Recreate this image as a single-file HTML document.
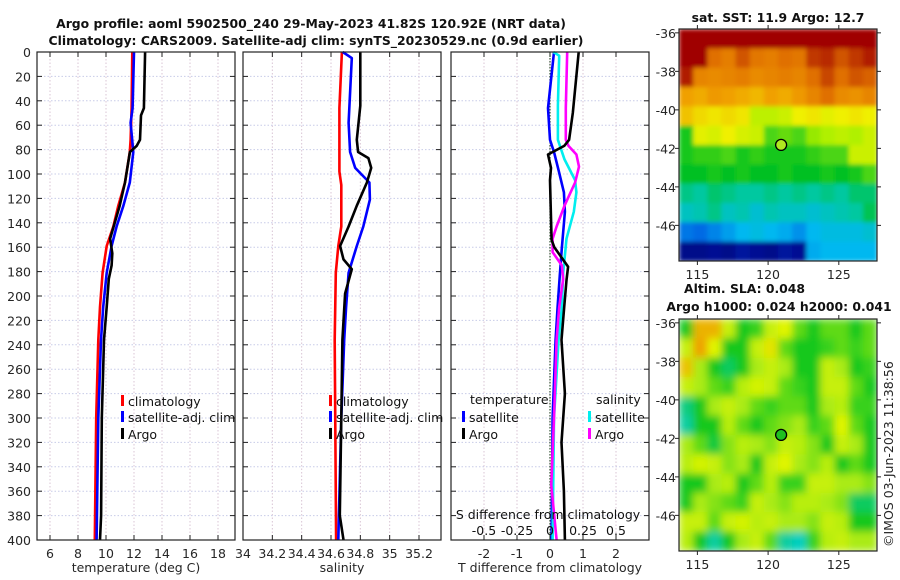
<!DOCTYPE html>
<html><head><meta charset="utf-8"><style>
body{margin:0;background:#fff;}
svg{display:block;font-family:"DejaVu Sans","Liberation Sans",sans-serif;}
.tk{font-size:12.5px;fill:#262626;}
.tt{font-size:12.4px;font-weight:bold;fill:#111;}
.lg{font-size:12.5px;fill:#111;}
</style></head><body>
<svg id="fig" width="900" height="580" viewBox="0 0 900 580">
<defs>
<filter id="blurS" x="0" y="0" width="1" height="1"><feGaussianBlur stdDeviation="2" edgeMode="duplicate"/></filter>
<filter id="blurL" x="0" y="0" width="1" height="1"><feGaussianBlur stdDeviation="4" edgeMode="duplicate"/></filter>
<clipPath id="clipS"><rect x="679" y="29" width="198" height="232"/></clipPath>
<clipPath id="clipL"><rect x="679" y="319" width="198" height="232"/></clipPath>
</defs>
<text class="tt" x="311" y="28" text-anchor="middle">Argo profile: aoml 5902500_240 29-May-2023 41.82S 120.92E (NRT data)</text>
<text class="tt" x="316" y="45" text-anchor="middle">Climatology: CARS2009. Satellite-adj clim: synTS_20230529.nc (0.9d earlier)</text>
<text class="tt" x="778" y="22" text-anchor="middle">sat. SST: 11.9 Argo: 12.7</text>
<text class="tt" x="684" y="293">Altim. SLA: 0.048</text>
<text class="tt" x="779" y="311" text-anchor="middle">Argo h1000: 0.024 h2000: 0.041</text>
<text class="tk" transform="translate(893,547) rotate(-90)">©IMOS 03-Jun-2023 11:38:56</text>
<g id="g1"></g>
</svg>
<script>
// ---- profile data ----
const depthTicks=[0,20,40,60,80,100,120,140,160,180,200,220,240,260,280,300,320,340,360,380,400];
const tTicks=[6,8,10,12,14,16,18];
const sTicks=[34,34.2,34.4,34.6,34.8,35,35.2];
const sTickLabels=["34","34.2","34.4","34.6","34.8","35","35.2"];
const dTTicks=[-2,-1,0,1,2];
const dSTicks=[-0.5,-0.25,0,0.25,0.5];
const dSTickLabels=["-0.5","-0.25","0","0.25","0.5"];

const tClimD=[0,46,72,82,107,126,143,159,181,209,236,300,400];
const tClim=[11.88,11.83,11.76,11.7,11.36,10.88,10.52,10.05,9.76,9.57,9.45,9.3,9.2];
const tSatD=[0,46,58,82,107,126,143,159,181,209,236,300,400];
const tSat=[12.0,11.9,11.76,11.95,11.7,11.24,10.76,10.4,10.05,9.8,9.64,9.45,9.33];
const tArgoD=[0,46,52,72,77,82,107,126,153,165,175,186,209,236,300,380,400];
const tArgo=[12.79,12.71,12.5,12.43,12.19,11.71,11.36,10.98,10.29,10.45,10.4,10.2,10.05,9.86,9.7,9.65,9.57];

const sClimD=[0,46,98,109,143,159,181,236,400];
const sClim=[34.674,34.657,34.657,34.67,34.67,34.65,34.633,34.625,34.635];
const sSatD=[0,5,58,82,95,107,121,143,159,181,209,236,300,400];
const sSat=[34.68,34.742,34.72,34.73,34.765,34.862,34.865,34.82,34.776,34.72,34.703,34.69,34.67,34.65];
const sArgoD=[0,44,72,82,87,95,107,126,143,159,170,178,198,236,300,380,400];
const sArgo=[34.8,34.8,34.776,34.785,34.855,34.874,34.845,34.776,34.72,34.662,34.685,34.742,34.696,34.678,34.67,34.66,34.685];

const dTArgoD=[0,50,72,77,84,95,105,127,154,160,176,187,209,236,280,320,360,400];
const dTArgo=[0.87,0.69,0.58,0.43,-0.06,0.03,0,0.02,0.05,0.13,0.55,0.5,0.43,0.35,0.45,0.35,0.42,0.45];
const dTSatD=[0,46,72,82,98,115,131,160,182,209,236,300,400];
const dTSat=[0.12,-0.06,0,0.12,0.27,0.42,0.45,0.36,0.3,0.23,0.17,0.08,0.05];
const dSSatD=[0,3,44,72,88,105,115,131,153,181,209,236,300,400];
const dSSat=[0.025,0.07,0.06,0.06,0.11,0.19,0.2,0.18,0.125,0.1,0.09,0.065,0.03,0.02];
const dSArgoD=[0,46,72,77,84,94,107,126,143,153,164,175,186,209,236,300,355,400];
const dSArgo=[0.13,0.12,0.12,0.14,0.2,0.22,0.19,0.11,0.05,0.02,0.02,0.09,0.1,0.07,0.05,0.03,0.01,0.05];

// ---- map data ----
const lonTicks=[115,120,125];
const latTicks=[-36,-38,-40,-42,-44,-46];
const argoLon=120.92, argoLat=-41.82;
const sstGrid=[
[16,16,16,16,16,16,16,16,16,16,15.8,15.6,15.6,15.8],
[16,16,14.6,14.4,14.8,14.5,14.4,14.6,14.5,15,15.1,14.8,15,15.2],
[15.2,14.3,14.2,14.3,14.4,14.2,14.3,14.4,14.3,14.6,14.9,14.6,14.8,14.7],
[13.9,13.8,14,13.9,13.8,13.7,13.9,13.8,14,14.3,14.6,14.2,14.1,14.3],
[13.6,13.4,13.3,13.4,13.3,12.8,12.8,12.9,13.2,13.3,13.1,13.2,13.3,13.2],
[12.1,13.1,13,13.2,13,12.9,12.3,12.4,12.3,12.6,12.7,12.8,12.7,12.9],
[12.1,12.2,12.2,12.3,12.1,12.2,12.1,12.1,12.1,12.2,12.3,12.3,12.9,12.9],
[12,12,12.1,12,12.1,12,12,12.1,12,12,12.1,12,12.1,12.3],
[11.6,11.5,11.7,11.6,11.5,11.5,11.6,11.5,11.6,11.5,11.6,11.5,11.7,11.7],
[11.3,11.4,11.6,11.3,11.4,11.2,11.4,11.3,11.3,11.2,11.3,11.4,11.5,11.8],
[10.5,10.4,10.6,10.8,11,11.1,11,10.9,10.7,11,11.1,11.1,11.1,11.2],
[9.3,9.3,9.4,9.3,9.5,9.4,9.3,9.5,9.4,10.9,11,11,11,11]];
const slaGrid=[
[0.3,0.9,0.9,0.6,0.3,0.35,0.6,0.7,0.4,0.3,0.4,0.4,0.3,0.4],
[0.6,0.95,0.7,0.3,0.3,0.6,0.75,0.4,0.3,0.3,0.35,0.4,0.35,0.4],
[0.85,0.5,0.3,0.2,0.3,0.5,0.6,0.5,0.3,0.3,0.6,0.5,0.3,0.35],
[0.6,0.5,0.4,0.35,0.55,0.65,0.6,0.4,0.35,0.3,0.6,0.6,0.4,0.3],
[0.15,0.3,0.5,0.6,0.5,0.4,0.35,0.4,0.4,0.3,0.5,0.55,0.35,0.35],
[0.1,0.3,0.3,0.55,0.4,0.3,0.4,0.45,0.5,0.35,0.4,0.7,0.4,0.3],
[0.5,0.4,0.25,0.45,0.55,0.5,0.45,0.6,0.55,0.45,0.3,0.6,0.5,0.3],
[0.55,0.65,0.6,0.45,0.5,0.3,0.6,0.7,0.5,0.45,0.55,0.3,0.4,0.3],
[0.3,0.3,0.5,0.55,0.3,0.4,0.55,0.35,0.35,0.6,0.6,0.5,0.5,0.45],
[0.3,0.5,0.45,0.4,0.35,0.6,0.5,0.45,0.55,0.55,0.5,0.45,0.2,0.2],
[0.6,0.6,0.4,0.6,0.65,0.55,0.6,0.5,0.5,0.45,0.6,0.55,0.3,0.3],
[0.55,0.3,0.1,0.3,0.5,0.6,0.4,0.1,0.05,0.35,0.55,0.6,0.5,0.5]];

const NS="http://www.w3.org/2000/svg";
const root=document.getElementById('g1');
function mk(tag,attrs,parent){const e=document.createElementNS(NS,tag);for(const k in attrs)e.setAttribute(k,attrs[k]);(parent||root).appendChild(e);return e;}
function lin(d0,d1,r0,r1){return v=>r0+(v-d0)/(d1-d0)*(r1-r0);}
const Y0=52,Y1=540;
const yD=lin(0,400,Y0,Y1);

function panel(name,x0,x1,xs,ticks,labels,showY,xlabel){
  const g=mk('g',{});
  
  
  ticks.forEach((t,i)=>{const x=xs(t);
    const l=mk('line',{x1:x,x2:x,y1:Y0,y2:Y1,stroke:'#d9c4d4','stroke-width':1,'stroke-dasharray':'1.5,2'},g);
    
    mk('line',{x1:x,x2:x,y1:Y1,y2:Y1-5,stroke:'#222'},g);mk('line',{x1:x,x2:x,y1:Y0,y2:Y0+5,stroke:'#222'},g);
    const tx=mk('text',{class:'tk',x:x,y:Y1+18,'text-anchor':'middle'},g);tx.textContent=labels[i];
    });
  depthTicks.forEach(d=>{const y=yD(d);
    const l=mk('line',{x1:x0,x2:x1,y1:y,y2:y,stroke:'#c8cce8','stroke-width':1,'stroke-dasharray':'1.5,2'},g);
    
    mk('line',{x1:x0,x2:x0+5,y1:y,y2:y,stroke:'#222'},g);mk('line',{x1:x1,x2:x1-5,y1:y,y2:y,stroke:'#222'},g);
    if(showY){const tx=mk('text',{class:'tk',x:31,y:y+5,'text-anchor':'end'},g);tx.textContent=d;
      }});
  const t=mk('text',{class:'tk','font-size':'13.5',x:(x0+x1)/2,y:572,'text-anchor':'middle'},g);t.textContent=xlabel;
  
  return g;
}
function frame(x0,x1,g){const r=mk('rect',{x:x0,y:Y0,width:x1-x0,height:Y1-Y0,fill:'none',stroke:'#222','stroke-width':1.2},g);
  }
function line(g,xs,vals,deps,col,name){
  const pts=vals.map((v,i)=>xs(v).toFixed(1)+','+yD(deps[i]).toFixed(1)).join(' ');
  const p=mk('polyline',{points:pts,fill:'none',stroke:col,'stroke-width':2.6,'stroke-linejoin':'round'},g);
  }
function legend(g,x,y,col,label){
  mk('rect',{x:x,y:y-9,width:3,height:11,fill:col},g);
  const t=mk('text',{class:'lg',x:x+7,y:y+2},g);t.textContent=label;
  }

// panel 1 temperature
const xT=lin(6,18,50,218);
const p1=panel('temperature-panel',37,235,xT,tTicks,tTicks.map(String),true,'temperature (deg C)');
line(p1,xT,tClim,tClimD,'#ff0000','temp-climatology-line');
line(p1,xT,tSat,tSatD,'#0000ff','temp-satellite-line');
line(p1,xT,tArgo,tArgoD,'#000000','temp-argo-line');
frame(37,235,p1);
legend(p1,121,404,'#ff0000','climatology');legend(p1,121,420,'#0000ff','satellite-adj. clim');legend(p1,121,437,'#000','Argo');

// panel 2 salinity
const xS=lin(34,35.2,243,419);
const p2=panel('salinity-panel',243,441,xS,sTicks,sTickLabels,false,'salinity');
line(p2,xS,sClim,sClimD,'#ff0000','sal-climatology-line');
line(p2,xS,sSat,sSatD,'#0000ff','sal-satellite-line');
line(p2,xS,sArgo,sArgoD,'#000000','sal-argo-line');
frame(243,441,p2);
legend(p2,329,404,'#ff0000','climatology');legend(p2,329,420,'#0000ff','satellite-adj. clim');legend(p2,329,437,'#000','Argo');

// panel 3 differences
const xDT=lin(-3,3,451,649);
const xDS=lin(-0.75,0.75,451,649);
const p3=panel('difference-panel',451,649,xDT,dTTicks,dTTicks.map(String),false,'T difference from climatology');
const z=mk('line',{x1:xDT(0),x2:xDT(0),y1:Y0,y2:Y1,stroke:'#335533','stroke-width':1.2,'stroke-dasharray':'1.5,1.5'},p3);

line(p3,xDT,dTSat,dTSatD,'#0000ff','dT-satellite-line');
line(p3,xDS,dSSat,dSSatD,'#00eeee','dS-satellite-line');
line(p3,xDS,dSArgo,dSArgoD,'#ff00ff','dS-argo-line');
line(p3,xDT,dTArgo,dTArgoD,'#000000','dT-argo-line');
frame(451,649,p3);
{const t=mk('text',{class:'lg',x:470,y:404},p3);t.textContent='temperature';
 const s=mk('text',{class:'lg',x:596,y:404},p3);s.textContent='salinity';}
legend(p3,462,420,'#0000ff','satellite');legend(p3,462,437,'#000','Argo');
legend(p3,588,420,'#00eeee','satellite');legend(p3,588,437,'#ff00ff','Argo');
{const t=mk('text',{class:'lg',x:548,y:519,'text-anchor':'middle'},p3);t.textContent='S difference from climatology';
 
 dSTicks.forEach((v,i)=>{const l=mk('text',{class:'lg',x:xDS(v),y:535,'text-anchor':'middle'},p3);l.textContent=dSTickLabels[i];
  });}

// ---- maps ----
function interp(stops,v){
  if(v<=stops[0][0])return 'rgb('+stops[0][1].join(',')+')';
  for(let i=1;i<stops.length;i++){if(v<=stops[i][0]){const a=stops[i-1],b=stops[i],f=(v-a[0])/(b[0]-a[0]);
    const c=a[1].map((x,k)=>Math.round(x+(b[1][k]-x)*f));return 'rgb('+c.join(',')+')';}}
  const l=stops[stops.length-1][1];return 'rgb('+l.join(',')+')';}
const sstStops=[[9.2,[0,0,128]],[10.2,[0,80,224]],[11,[0,184,240]],[11.5,[0,200,160]],[12,[0,192,32]],[12.7,[176,240,0]],[13.2,[240,240,0]],[13.9,[240,160,0]],[14.6,[224,112,0]],[15.4,[160,0,0]]];
const slaStops=[[0,[0,208,224]],[0.3,[20,200,30]],[0.5,[170,235,20]],[0.7,[225,245,0]],[1,[240,144,0]]];
function map(name,top,bot,grid,stops,dotCol,filt,clip){
  const X0=679,X1=877;
  const g=mk('g',{});
  const cg=mk('g',{'clip-path':'url(#'+clip+')'},g);
  const img=mk('g',{filter:'url(#'+filt+')'},cg);
  const rows=grid.length,cols=grid[0].length,cw=(X1-X0)/cols,ch=(bot-top)/rows;
  grid.forEach((row,r)=>row.forEach((v,c)=>{
    const e=mk('rect',{x:(X0+c*cw).toFixed(2),y:(top+r*ch).toFixed(2),width:(cw+0.6).toFixed(2),height:(ch+0.6).toFixed(2),fill:interp(stops,v)},img);
    }));
  const xl=lin(113.7,127.7,X0,X1), yl=lin(-35.8,-47.85,top,bot);
  mk('rect',{x:X0,y:top,width:X1-X0,height:bot-top,fill:'none',stroke:'#222','stroke-width':1.2},g);
  lonTicks.forEach(v=>{const x=xl(v);mk('line',{x1:x,x2:x,y1:bot,y2:bot+4,stroke:'#222'},g);mk('line',{x1:x,x2:x,y1:top,y2:top-4,stroke:'#222'},g);
    const t=mk('text',{class:'tk',x:x,y:bot+18,'text-anchor':'middle'},g);t.textContent=v;
    });
  latTicks.forEach(v=>{const y=yl(v);mk('line',{x1:X0,x2:X0-4,y1:y,y2:y,stroke:'#222'},g);mk('line',{x1:X1,x2:X1+4,y1:y,y2:y,stroke:'#222'},g);
    const t=mk('text',{class:'tk',x:676,y:y+5,'text-anchor':'end'},g);t.textContent=v;
    });
  const c=mk('circle',{cx:xl(argoLon),cy:yl(argoLat),r:5.5,fill:dotCol,stroke:'#000','stroke-width':1.3},g);
  
}
map('sst-map',29,261,sstGrid,sstStops,'#b0e820','blurS','clipS');
map('sla-map',319,551,slaGrid,slaStops,'#20c020','blurL','clipL');
</script>
</body></html>
